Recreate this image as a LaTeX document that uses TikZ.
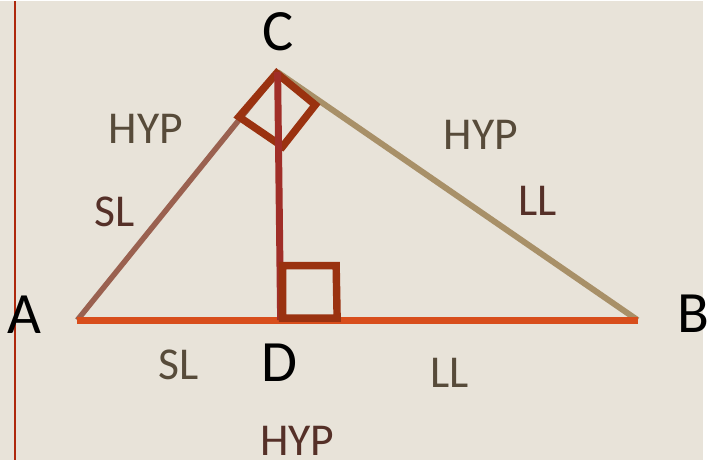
\documentclass[tikz,border=0pt]{standalone}
\usepackage{fontspec}
\setmainfont{Carlito}
\usetikzlibrary{positioning}
\definecolor{bgcolor}{HTML}{E8E3D9}
\definecolor{accolor}{HTML}{9A6150}
\definecolor{cbcolor}{HTML}{A89068}
\definecolor{abcolor}{HTML}{D84E1C}
\definecolor{altcolor}{HTML}{A02E28}
\definecolor{sqcolor}{HTML}{9A3210}
\definecolor{olivetext}{HTML}{574B3A}
\definecolor{redtext}{HTML}{553028}

\begin{document}
\begin{tikzpicture}[x=1pt, y=-1pt,
    vertex/.style={font=\fontsize{59}{60}\selectfont, text=black, inner sep=0pt},
    lbl/.style={font=\fontsize{46}{48}\selectfont, inner sep=0pt, text=olivetext},
    rtsquare/.style={draw=sqcolor, line width=7.5pt, line join=miter},
  ]
    \fill[bgcolor] (0,0) rectangle (709,463);
    \draw[sqcolor!80!red, line width=1.6pt] (15,0) -- (15,463);

    \coordinate (a) at (78,322);
    \coordinate (b) at (643,322);
    \coordinate (c) at (280,72);
    \coordinate (d) at (283,322);

    \draw[accolor, line width=5.5pt] (a) -- (c);
    \draw[cbcolor, line width=6pt] (c) -- (b);
    \draw[abcolor, line width=7pt] (a) -- (b);

    % right angle at C
    \draw[rtsquare] (279,73) -- (241,117) -- (285,147) -- (318,105) -- cycle;
    \draw[altcolor, line width=7pt] (c) -- (d);
    % right angle at D
    \draw[rtsquare] (285,320) -- (285,267) -- (339,267) -- (340,320) -- cycle;

    \node[vertex] (A) at (25,317) {A};
    \node[vertex] (B) at (699,316) {B};
    \node[vertex] (C) at (280,31) {C};
    \node[vertex] (D) at (282,365) {D};

    \node[lbl] (hypac) at (147,129) {HYP};
    \node[lbl, text=redtext] (slac) at (116,213) {SL};
    \node[lbl] (hypcb) at (485,135) {HYP};
    \node[lbl, text=redtext] (llcb) at (542,202) {LL};
    \node[lbl] (slad) at (180,367) {SL};
    \node[lbl] (lldb) at (453,375) {LL};
    \node[lbl, text=redtext] (hypab) at (300,444) {HYP};
\end{tikzpicture}
\end{document}
